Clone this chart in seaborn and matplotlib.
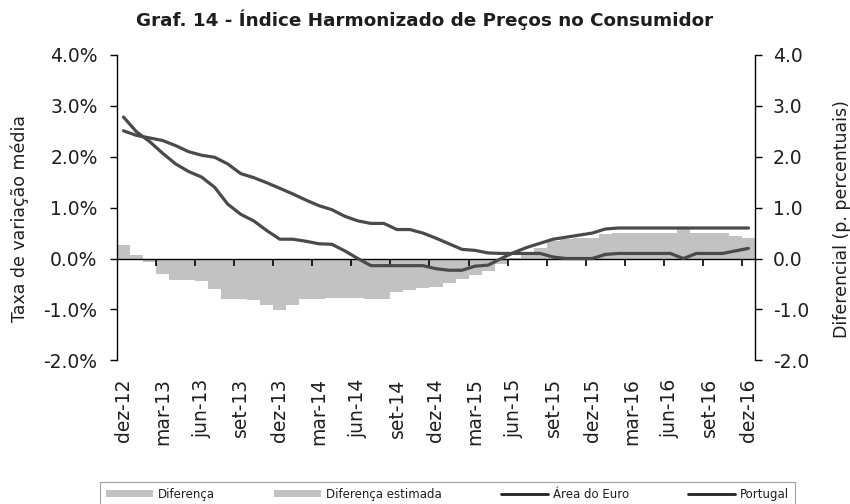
import numpy as np
import pandas as pd
import matplotlib
matplotlib.use("Agg")
import matplotlib.pyplot as plt
from matplotlib.patches import Patch
from matplotlib.lines import Line2D
from matplotlib.ticker import FuncFormatter
import seaborn as sns

# ---------------- data ----------------
months = ["dez-12", "jan-13", "fev-13", "mar-13", "abr-13", "mai-13", "jun-13", "jul-13",
          "ago-13", "set-13", "out-13", "nov-13", "dez-13", "jan-14", "fev-14", "mar-14",
          "abr-14", "mai-14", "jun-14", "jul-14", "ago-14", "set-14", "out-14", "nov-14",
          "dez-14", "jan-15", "fev-15", "mar-15", "abr-15", "mai-15", "jun-15", "jul-15",
          "ago-15", "set-15", "out-15", "nov-15", "dez-15", "jan-16", "fev-16", "mar-16",
          "abr-16", "mai-16", "jun-16", "jul-16", "ago-16", "set-16", "out-16", "nov-16",
          "dez-16"]

area_euro = [2.51, 2.42, 2.37, 2.32, 2.22, 2.10, 2.03, 1.99, 1.86, 1.67, 1.59, 1.49,
             1.38, 1.27, 1.15, 1.04, 0.96, 0.83, 0.74, 0.69, 0.69, 0.57, 0.57, 0.50,
             0.40, 0.29, 0.18, 0.16, 0.11, 0.10, 0.10, 0.10, 0.10, 0.03, 0.00, 0.00,
             0.00, 0.08, 0.10, 0.10, 0.10, 0.10, 0.10, 0.00, 0.10, 0.10, 0.10, 0.15,
             0.20]

portugal = [2.78, 2.49, 2.30, 2.07, 1.86, 1.71, 1.60, 1.40, 1.07, 0.87, 0.74, 0.55,
            0.38, 0.38, 0.34, 0.29, 0.28, 0.15, 0.00, -0.14, -0.14, -0.14, -0.14, -0.14,
            -0.20, -0.23, -0.23, -0.15, -0.13, 0.00, 0.12, 0.22, 0.30, 0.38, 0.42, 0.46,
            0.50, 0.58, 0.60, 0.60, 0.60, 0.60, 0.60, 0.60, 0.60, 0.60, 0.60, 0.60,
            0.60]

diferenca = [0.26, 0.07, -0.07, -0.31, -0.42, -0.42, -0.45, -0.60, -0.80, -0.80, -0.82, -0.92,
             -1.02, -0.92, -0.80, -0.80, -0.78, -0.78, -0.78, -0.80, -0.80, -0.65, -0.62, -0.58,
             -0.55, -0.48, -0.40, -0.33, -0.25, -0.10, 0.02, 0.10, 0.20, 0.35, 0.38, 0.40,
             0.40, 0.48, 0.50, 0.50, 0.50, 0.50, 0.50, 0.60, 0.50, 0.50, 0.50, 0.45,
             0.40]

tipo = ["Diferença"] * 48 + ["Diferença estimada"]

tick_labels = ["dez-12", "mar-13", "jun-13", "set-13", "dez-13", "mar-14", "jun-14",
               "set-14", "dez-14", "mar-15", "jun-15", "set-15", "dez-15", "mar-16",
               "jun-16", "set-16", "dez-16"]

left_ticks = [-2.0, -1.0, 0.0, 1.0, 2.0, 3.0, 4.0]

# ---------------- styling ----------------
sns.set_theme(style="white")
plt.rcParams['font.family'] = ['DejaVu Sans']
TXT = "#1e1e1e"
LINE = "#4a4a4a"
BAR = "#c2c2c2"

idx = list(range(len(months)))
df = pd.DataFrame({"m": idx, "mes": months, "dif": diferenca, "tipo": tipo,
                   "euro": area_euro, "pt": portugal})

fig = plt.figure(figsize=(8.5, 5.04), dpi=100)
ax = fig.add_axes([117 / 850, 1 - 360.3 / 504, (755 - 117) / 850, (360.3 - 55) / 504])

sns.barplot(data=df, x="m", y="dif", hue="tipo",
            palette={"Diferença": BAR, "Diferença estimada": BAR},
            native_scale=True, width=1.0, dodge=False, linewidth=0,
            saturation=1, legend=False, ax=ax)
sns.lineplot(data=df, x="m", y="euro", color=LINE, lw=2.3, ax=ax, zorder=4)
sns.lineplot(data=df, x="m", y="pt", color=LINE, lw=2.3, ax=ax, zorder=4)

ax.set_xlim(-0.5, 48.5)
ax.set_ylim(-2, 4)
ax.set_xticks(idx[::3])
ax.set_xticklabels(tick_labels, rotation=90, fontsize=13.5, color=TXT)
ax.tick_params(axis='x', length=0, pad=13)
ax.set_xlabel("")
ax.set_yticks(left_ticks)
ax.yaxis.set_major_formatter(FuncFormatter(lambda v, p: f"{v:.1f}%"))
ax.tick_params(axis='y', left=True, length=5, width=1, color='black',
               direction='out', labelsize=13.5, labelcolor=TXT, pad=9)
ax.set_ylabel("Taxa de variação média", fontsize=12.5, color=TXT)
ax.yaxis.set_label_coords(-0.138, 0.464)

for s in ["top", "bottom", "right"]:
    ax.spines[s].set_visible(False)
ax.spines["left"].set_color("black")
ax.spines["left"].set_linewidth(1)

# zero axis with tick marks at category boundaries
sec = ax.secondary_xaxis(1 / 3)
sec.set_zorder(3)
sec.set_xticks(np.arange(2.5, 48, 3))
sec.tick_params(axis='x', direction='out', length=5, width=1.2, color='black',
                labelbottom=False, labeltop=False, bottom=True, top=False)
for s in ["top", "bottom"]:
    sec.spines[s].set_color("black")
    sec.spines[s].set_linewidth(1)

# right axis
ax2 = ax.twinx()
ax2.set_ylim(-2, 4)
ax2.set_yticks(left_ticks)
ax2.yaxis.set_major_formatter(FuncFormatter(lambda v, p: f"{v:.1f}"))
ax2.tick_params(axis='y', right=True, length=5, width=1, color='black',
                direction='out', labelsize=13.5, labelcolor=TXT, pad=8)
for s in ["top", "bottom", "left"]:
    ax2.spines[s].set_visible(False)
ax2.spines["right"].set_color("black")
ax2.spines["right"].set_linewidth(1)
ax2.set_ylabel("Diferencial (p. percentuais)", fontsize=12.5, color=TXT)
ax2.yaxis.set_label_coords(1.122, 0.464)
ax2.grid(False)

fig.text(0.5, 1 - 20 / 504, "Graf. 14 - Índice Harmonizado de Preços no Consumidor",
         ha="center", va="center", fontsize=13.2, fontweight="bold", color=TXT)

handles = [Patch(facecolor=BAR, edgecolor="none"),
           Patch(facecolor=BAR, edgecolor="none"),
           Line2D([], [], color="#202020", lw=2),
           Line2D([], [], color="#202020", lw=2)]
labels = ["Diferença", "Diferença estimada", "Área do Euro", "Portugal"]
leg = fig.legend(handles, labels, loc="upper left", bbox_to_anchor=(100 / 850, 1 - 482 / 504),
                 ncol=4, fontsize=8.5, handlelength=4, handleheight=0.6, columnspacing=5,
                 handletextpad=0.4, frameon=True, fancybox=False, borderaxespad=0,
                 edgecolor="#888888", borderpad=0.5)
leg.get_frame().set_linewidth(0.8)
for t in leg.get_texts():
    t.set_color(TXT)

fig.savefig("out.png", dpi=100)
